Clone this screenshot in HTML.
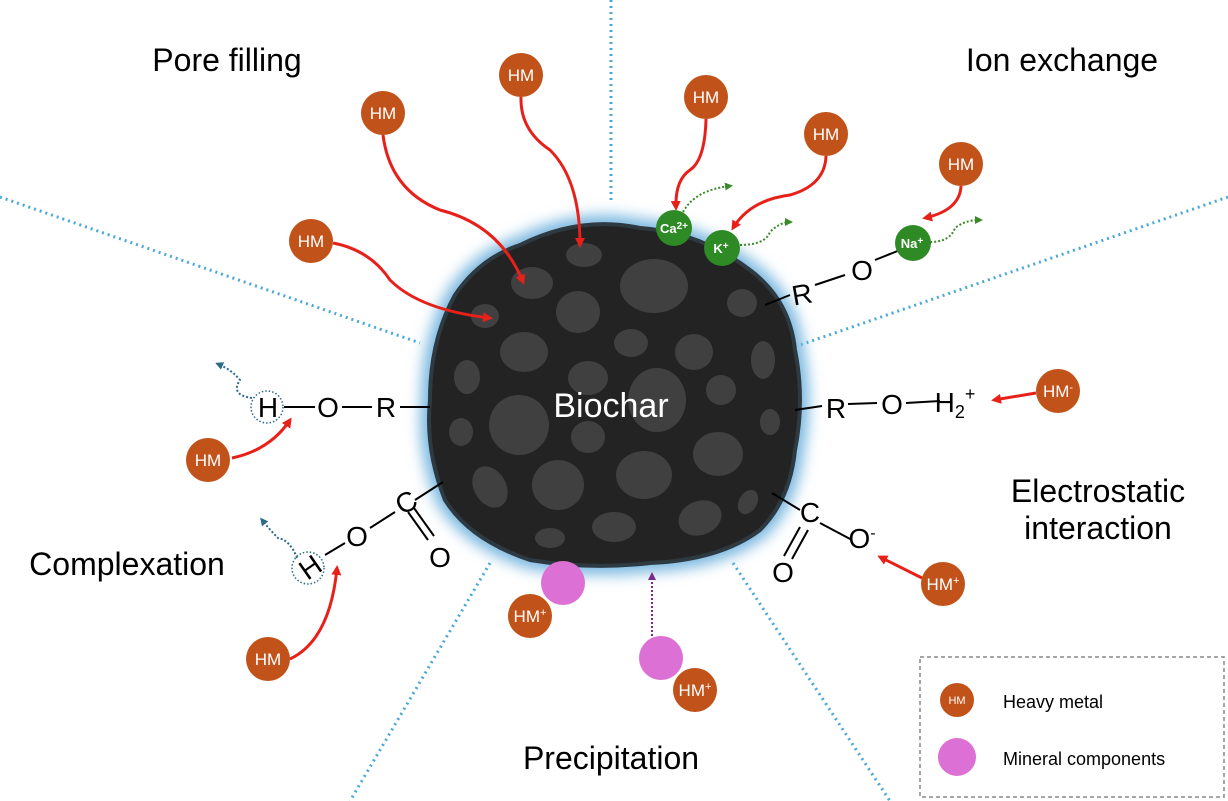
<!DOCTYPE html>
<html><head><meta charset="utf-8"><style>html,body{margin:0;padding:0;background:#fff}svg{display:block}text{font-family:"Liberation Sans",sans-serif}</style></head><body>
<svg width="1228" height="801" viewBox="0 0 1228 801" xmlns="http://www.w3.org/2000/svg">
<defs>
<marker id="ar" markerWidth="10" markerHeight="10" refX="7" refY="5" orient="auto" markerUnits="userSpaceOnUse"><path d="M0,0 L10,5 L0,10 Z" fill="#e8201a"/></marker>
<marker id="ag" markerWidth="8" markerHeight="8" refX="5" refY="4" orient="auto" markerUnits="userSpaceOnUse"><path d="M0,0 L8,4 L0,8 Z" fill="#3a8a2a"/></marker>
<marker id="ab" markerWidth="8" markerHeight="8" refX="5" refY="4" orient="auto" markerUnits="userSpaceOnUse"><path d="M0,0 L8,4 L0,8 Z" fill="#2a6a8a"/></marker>
<marker id="ap" markerWidth="8" markerHeight="8" refX="5" refY="4" orient="auto" markerUnits="userSpaceOnUse"><path d="M0,0 L8,4 L0,8 Z" fill="#7a2a8a"/></marker>
<filter id="gl" x="-20%" y="-20%" width="140%" height="140%"><feGaussianBlur stdDeviation="7"/></filter>
</defs>
<g stroke="#4aa8d8" stroke-width="3" stroke-dasharray="2 4" fill="none">
<line x1="611" y1="0" x2="611" y2="200"/>
<line x1="0" y1="197" x2="420" y2="343"/>
<line x1="1228" y1="197" x2="800" y2="345"/>
<line x1="490" y1="563" x2="350" y2="801"/>
<line x1="733" y1="563" x2="890" y2="801"/>
</g>
<path d="M520,245 Q580,215 640,228 Q700,232 750,270 Q790,300 795,350 Q805,400 795,450 Q790,500 760,530 Q720,560 650,563 Q590,570 530,560 Q470,540 445,500 Q425,450 430,400 Q430,340 455,295 Q480,258 520,245 Z" fill="#7ab8e0" stroke="#7ab8e0" stroke-width="18" filter="url(#gl)"/>
<path d="M520,245 Q580,215 640,228 Q700,232 750,270 Q790,300 795,350 Q805,400 795,450 Q790,500 760,530 Q720,560 650,563 Q590,570 530,560 Q470,540 445,500 Q425,450 430,400 Q430,340 455,295 Q480,258 520,245 Z" fill="#232323" stroke="#2e3a42" stroke-width="4"/>
<g fill="#404040">
<ellipse cx="654" cy="286" rx="34" ry="27"/><ellipse cx="532" cy="283" rx="21" ry="16"/><ellipse cx="584" cy="255" rx="18" ry="12"/><ellipse cx="485" cy="316" rx="14" ry="12"/>
<ellipse cx="578" cy="312" rx="22" ry="21"/><ellipse cx="524" cy="352" rx="24" ry="20"/><ellipse cx="631" cy="343" rx="17" ry="14"/><ellipse cx="694" cy="352" rx="19" ry="18"/><ellipse cx="742" cy="303" rx="15" ry="14"/>
<ellipse cx="467" cy="377" rx="13" ry="17"/><ellipse cx="588" cy="378" rx="20" ry="17"/><ellipse cx="657" cy="400" rx="29" ry="32"/><ellipse cx="721" cy="390" rx="15" ry="15"/><ellipse cx="763" cy="360" rx="12" ry="19"/>
<ellipse cx="519" cy="425" rx="30" ry="30"/><ellipse cx="461" cy="432" rx="12" ry="14"/><ellipse cx="588" cy="437" rx="17" ry="16"/><ellipse cx="770" cy="422" rx="10" ry="13"/>
<ellipse cx="718" cy="454" rx="25" ry="22"/><ellipse cx="644" cy="475" rx="28" ry="24"/><ellipse cx="558" cy="485" rx="26" ry="25"/><ellipse cx="490" cy="487" rx="16" ry="22" transform="rotate(-30 490 487)"/>
<ellipse cx="614" cy="527" rx="22" ry="15"/><ellipse cx="700" cy="518" rx="22" ry="17" transform="rotate(-20 700 518)"/><ellipse cx="550" cy="538" rx="15" ry="10"/><ellipse cx="748" cy="502" rx="9" ry="13" transform="rotate(30 748 502)"/>
</g>
<text x="611" y="417" font-size="34" fill="#fff" text-anchor="middle">Biochar</text>
<g font-size="32" fill="#000" text-anchor="middle">
<text x="227" y="71">Pore filling</text>
<text x="1062" y="71">Ion exchange</text>
<text x="1098" y="502">Electrostatic</text>
<text x="1098" y="539">interaction</text>
<text x="127" y="575">Complexation</text>
<text x="611" y="769">Precipitation</text>
</g>
<g stroke="#000" stroke-width="2" fill="none">
<line x1="284" y1="407" x2="315" y2="407"/><line x1="342" y1="407" x2="372" y2="407"/><line x1="400" y1="407" x2="430" y2="407"/>
<line x1="325" y1="555" x2="345" y2="543"/><line x1="370" y1="528" x2="395" y2="512"/><line x1="415" y1="500" x2="443" y2="482"/>
<line x1="408" y1="512" x2="428" y2="540"/><line x1="414" y1="508" x2="434" y2="536"/>
<line x1="795" y1="410" x2="822" y2="406"/><line x1="848" y1="404" x2="877" y2="403"/><line x1="906" y1="403" x2="940" y2="401"/>
<line x1="772" y1="493" x2="800" y2="510"/><line x1="820" y1="523" x2="852" y2="540"/>
<line x1="800" y1="527" x2="784" y2="556"/><line x1="808" y1="530" x2="792" y2="559"/>
<line x1="765" y1="305" x2="790" y2="295"/><line x1="815" y1="285" x2="845" y2="275"/><line x1="875" y1="260" x2="900" y2="250"/>
</g>
<g font-size="28" fill="#000" text-anchor="middle">
<text x="268" y="417">H</text><text x="328" y="417">O</text><text x="386" y="417">R</text>
<text x="310" y="577" transform="rotate(-35 310 567)">H</text><text x="357" y="546">O</text><text x="406" y="512" transform="rotate(-30 406 502)">C</text><text x="440" y="567">O</text>
<text x="836" y="418">R</text><text x="892" y="414">O</text><text x="955" y="412">H<tspan font-size="18" dy="6">2</tspan><tspan font-size="18" dy="-18">+</tspan></text>
<text x="810" y="522">C</text><text x="862" y="548">O<tspan font-size="16" dy="-10">-</tspan></text><text x="783" y="582">O</text>
<text x="802" y="304" transform="rotate(-10 802 294)">R</text><text x="862" y="280">O</text>
</g>
<circle cx="267" cy="407" r="16" fill="none" stroke="#2a6a8a" stroke-width="1.5" stroke-dasharray="1.5 2"/>
<circle cx="308" cy="568" r="16" fill="none" stroke="#2a6a8a" stroke-width="1.5" stroke-dasharray="1.5 2"/>
<g stroke="#2a6a8a" stroke-width="2" stroke-dasharray="2 2" fill="none">
<path d="M252,398 Q230,395 240,380 Q232,370 218,364" marker-end="url(#ab)"/>
<path d="M297,558 Q290,540 278,538 Q270,530 262,520" marker-end="url(#ab)"/>
</g>
<g stroke="#e8201a" stroke-width="3" fill="none" marker-end="url(#ar)">
<path d="M383,135 Q390,190 440,210 Q500,225 523,282"/>
<path d="M521,97 Q520,130 550,150 Q580,180 580,245"/>
<path d="M333,243 Q370,250 390,280 Q420,310 490,318"/>
<path d="M706,119 Q705,160 690,170 Q675,180 676,208"/>
<path d="M826,156 Q825,185 790,195 Q750,200 733,228"/>
<path d="M961,186 Q960,210 925,218"/>
<path d="M1036,393 L994,400"/>
<path d="M232,458 Q270,450 290,420"/>
<path d="M922,578 L880,557"/>
<path d="M290,659 Q330,640 337,568"/>
</g>
<g stroke="#3a8a2a" stroke-width="2" stroke-dasharray="2 2" fill="none">
<path d="M683,212 Q695,190 730,186" marker-end="url(#ag)"/>
<path d="M740,245 Q765,245 770,232 Q780,222 790,222" marker-end="url(#ag)"/>
<path d="M930,242 Q950,242 955,228 Q965,220 980,220" marker-end="url(#ag)"/>
</g>
<path d="M652,640 L652,575" stroke="#7a2a8a" stroke-width="2" stroke-dasharray="2 2" fill="none" marker-end="url(#ap)"/>
<g fill="#2e8a24">
<circle cx="674" cy="228" r="18"/><circle cx="722" cy="248" r="18"/><circle cx="913" cy="243" r="18"/>
</g>
<g fill="#fff" font-size="13" font-weight="bold" text-anchor="middle">
<text x="674" y="233">Ca<tspan font-size="10" dy="-4">2+</tspan></text><text x="721" y="253">K<tspan font-size="10" dy="-4">+</tspan></text><text x="912" y="248">Na<tspan font-size="10" dy="-4">+</tspan></text>
</g>
<g fill="#dc70d4"><circle cx="563" cy="583" r="22"/><circle cx="661" cy="658" r="22"/><circle cx="957" cy="757" r="19"/></g>
<g fill="#c0521a">
<circle cx="383" cy="113" r="22"/><circle cx="521" cy="75" r="22"/><circle cx="311" cy="241" r="22"/>
<circle cx="706" cy="97" r="22"/><circle cx="826" cy="134" r="22"/><circle cx="961" cy="164" r="22"/>
<circle cx="1058" cy="391" r="22"/><circle cx="208" cy="460" r="22"/><circle cx="943" cy="584" r="22"/>
<circle cx="268" cy="659" r="22"/><circle cx="530" cy="616" r="22"/><circle cx="695" cy="690" r="22"/>
<circle cx="957" cy="700" r="17"/>
</g>
<g fill="#fff" font-size="17" text-anchor="middle">
<text x="383" y="119">HM</text><text x="521" y="81">HM</text><text x="311" y="247">HM</text>
<text x="706" y="103">HM</text><text x="826" y="140">HM</text><text x="961" y="170">HM</text>
<text x="1058" y="397">HM<tspan font-size="11" dy="-6">-</tspan></text><text x="208" y="466">HM</text><text x="943" y="590">HM<tspan font-size="11" dy="-6">+</tspan></text>
<text x="268" y="665">HM</text><text x="530" y="622">HM<tspan font-size="11" dy="-6">+</tspan></text><text x="695" y="696">HM<tspan font-size="11" dy="-6">+</tspan></text>
<text x="957" y="704" font-size="11">HM</text>
</g>
<rect x="920" y="657" width="304" height="140" fill="none" stroke="#888" stroke-width="1.5" stroke-dasharray="4 3"/>
<text x="1003" y="708" font-size="18">Heavy metal</text>
<text x="1003" y="765" font-size="18">Mineral components</text>
</svg>
</body></html>
